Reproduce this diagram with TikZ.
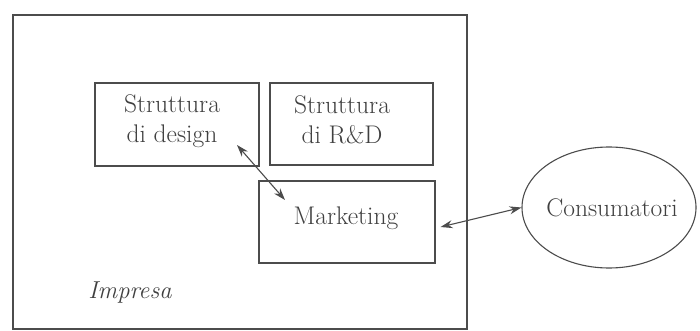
\documentclass[tikz,border=0pt]{standalone}
\usetikzlibrary{arrows.meta,shapes.geometric}
\definecolor{linec}{gray}{0.3}
\definecolor{txtc}{gray}{0.25}
\begin{document}
\begin{tikzpicture}[x=1pt,y=-1pt,
  box/.style={draw=linec, line width=1.1pt, rectangle, inner sep=0pt},
  lbl/.style={text=txtc, font=\fontsize{25.5}{30}\selectfont, align=center, inner sep=0pt},
  arr/.style={draw=linec, line width=1.1pt, {Stealth[length=12pt,width=8pt]}-{Stealth[length=12pt,width=8pt]}}]
\useasboundingbox (0,0) rectangle (700,331);
\fill[white] (0,0) rectangle (700,331);
% outer box
\node[box, minimum width=454pt, minimum height=314pt] (impresa) at (240,172) {};
\node[lbl, font=\fontsize{24.5}{30}\selectfont\itshape] (impresalbl) at (130,293) {Impresa};
% top boxes
\node[box, minimum width=164pt, minimum height=83pt] (dsgn) at (177,124.5) {};
\node[box, minimum width=163pt, minimum height=82pt] (rd) at (351.5,124) {};
\node[lbl] (dsgnlbl) at (172,121) {Struttura\\di design};
\node[lbl] (rdlbl) at (342,120) {Struttura\\di R\&D};
% marketing
\node[box, minimum width=176pt, minimum height=82pt] (mkt) at (347,222) {};
\node[lbl] (mktlbl) at (346,218) {Marketing};
% consumers
\node[draw=linec, line width=1.1pt, ellipse, minimum width=174pt, minimum height=121pt, inner sep=0pt] (cons) at (609,207.5) {};
\node[lbl] (conslbl) at (612,208) {Consumatori};
% arrows
\coordinate (a1) at (237,145);
\coordinate (a2) at (285,200);
\draw[arr] (a1) -- (a2);
\draw[arr] ([shift={(5pt,-5pt)}]mkt.east) -- (cons.west);
\end{tikzpicture}
\end{document}
